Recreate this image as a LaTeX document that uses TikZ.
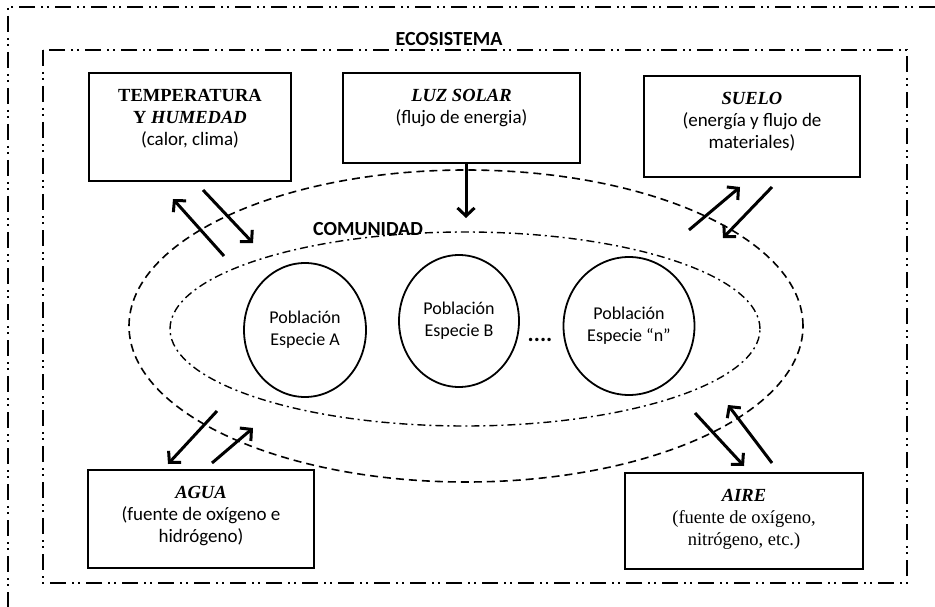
\documentclass[tikz,border=0pt]{standalone}
\usepackage{fontspec}
\setmainfont{Liberation Serif}
\setsansfont{Carlito}
\usetikzlibrary{arrows.meta,shapes.geometric}

\begin{document}
\begin{tikzpicture}[x=1pt,y=-1pt,
  frame/.style={line width=1.5pt, dash pattern=on 16pt off 6pt on 2pt off 4pt on 2pt off 6pt},
  ring/.style={draw, ellipse, inner sep=0pt, line width=1.6pt, dash pattern=on 8pt off 5pt},
  commring/.style={draw, ellipse, inner sep=0pt, line width=1.4pt, dash pattern=on 8pt off 4pt on 2pt off 4pt},
  factor/.style={draw, line width=2pt, inner sep=0pt, anchor=north west},
  factortext/.style={align=center, anchor=north, inner sep=0pt, font=\fontsize{18.5}{22}\selectfont},
  pop/.style={draw, ellipse, line width=1.8pt, inner sep=0pt, align=center, font=\sffamily\fontsize{18}{22}\selectfont},
  flow/.style={line width=3pt, -{Straight Barb[length=8pt,width=17pt]}},
  heading/.style={font=\sffamily\bfseries\fontsize{20}{24}\selectfont, inner sep=0pt, anchor=base}
]
\useasboundingbox (0,0) rectangle (935,607);

% outer and ecosystem frames
\draw[frame] (935,7) -- (8,7) -- (8,607);
\draw[frame] (43,50) rectangle (907,583);
\node[heading] (eco) at (449,46) {ECOSISTEMA};

% biotope ring and community ring
\node[ring, minimum width=674pt, minimum height=312pt] (biotope) at (466,326) {};
\node[commring, minimum width=590pt, minimum height=194pt] (community) at (465,329) {};
\node[heading] (comm) at (368,235) {COMUNIDAD};

% populations
\node[pop, minimum width=122pt, minimum height=134pt] (popA) at (305,330) {Población\\Especie A};
\node[pop, minimum width=120pt, minimum height=132pt] (popB) at (459,321) {Población\\Especie B};
\node[pop, minimum width=131pt, minimum height=138pt] (popN) at (629,326) {Población\\Especie “n”};
\node[inner sep=0pt, anchor=base, font=\sffamily\bfseries\fontsize{23}{26}\selectfont] (dots) at (540,341) {....};

% abiotic factors
\node[factor, minimum width=202pt, minimum height=108pt] (temp) at (88,72) {};
\node[factortext] (tempT) at ([yshift=-17pt]temp.north)
  {{\bfseries TEMPERATURA}\\{\bfseries Y \itshape HUMEDAD}\\{\sffamily\fontsize{19}{22}\selectfont (calor, clima)}};

\node[factor, minimum width=237pt, minimum height=90pt] (luz) at (342,72) {};
\node[factortext] (luzT) at ([yshift=-17pt]luz.north)
  {{\bfseries\itshape LUZ SOLAR}\\{\sffamily\fontsize{19}{22}\selectfont (flujo de energia)}};

\node[factor, minimum width=216pt, minimum height=101pt] (suelo) at (643,75) {};
\node[factortext] (sueloT) at ([yshift=-17pt]suelo.north)
  {{\bfseries\itshape SUELO}\\{\sffamily\fontsize{19}{22}\selectfont (energía y flujo de}\\{\sffamily\fontsize{19}{22}\selectfont materiales)}};

\node[factor, minimum width=226pt, minimum height=98pt] (agua) at (87,469) {};
\node[factortext] (aguaT) at ([yshift=-17pt]agua.north)
  {{\bfseries\itshape AGUA}\\{\sffamily\fontsize{19}{22}\selectfont (fuente de oxígeno e}\\{\sffamily\fontsize{19}{22}\selectfont hidrógeno)}};

\node[factor, minimum width=238pt, minimum height=96pt] (aire) at (624,472) {};
\node[factortext] (aireT) at ([yshift=-17pt]aire.north)
  {{\bfseries\itshape AIRE}\\(fuente de oxígeno,\\nitrógeno, etc.)};

% exchange arrows
\coordinate (t1a) at (224,256); \coordinate (t1b) at (173,199);
\coordinate (t2a) at (203,190); \coordinate (t2b) at (253,243);
\coordinate (s1a) at (689,230); \coordinate (s1b) at (740,187);
\coordinate (s2a) at (772,187); \coordinate (s2b) at (723,238);
\coordinate (a1a) at (217,411); \coordinate (a1b) at (168,464);
\coordinate (a2a) at (212,463); \coordinate (a2b) at (253,428);
\coordinate (r1a) at (695,413); \coordinate (r1b) at (744,466);
\coordinate (r2a) at (772,463); \coordinate (r2b) at (728,405);
\coordinate (luzhead) at (466,218);

\draw[flow] (luz.south -| luzhead) -- (luzhead);
\draw[flow] (t1a) -- (t1b);
\draw[flow] (t2a) -- (t2b);
\draw[flow] (s1a) -- (s1b);
\draw[flow] (s2a) -- (s2b);
\draw[flow] (a1a) -- (a1b);
\draw[flow] (a2a) -- (a2b);
\draw[flow] (r1a) -- (r1b);
\draw[flow] (r2a) -- (r2b);
\end{tikzpicture}
\end{document}
